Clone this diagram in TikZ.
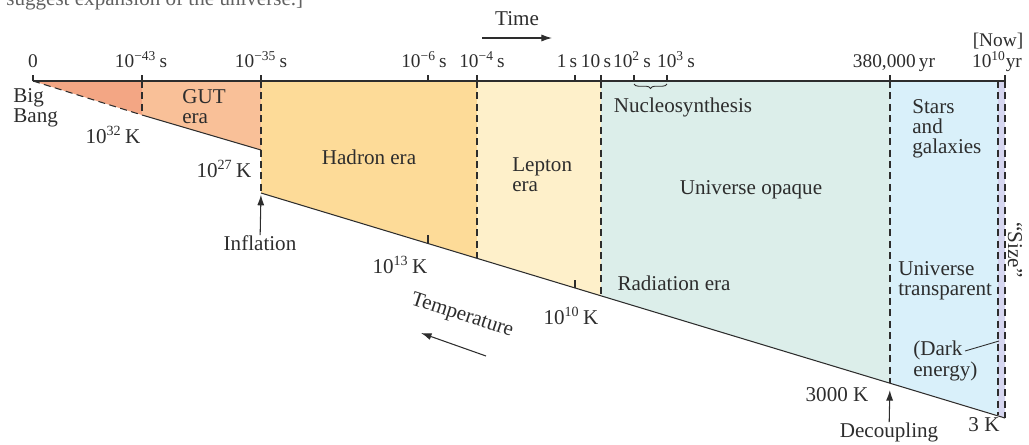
\documentclass[tikz,border=0pt]{standalone}
\usepackage{fontspec}
\setmainfont{Liberation Serif}
\usetikzlibrary{arrows.meta,decorations.pathreplacing}

\definecolor{gutdark}{RGB}{243,166,132}
\definecolor{gutera}{RGB}{249,192,152}
\definecolor{hadron}{RGB}{253,219,152}
\definecolor{lepton}{RGB}{254,240,202}
\definecolor{radfill}{RGB}{220,238,234}
\definecolor{transp}{RGB}{217,240,250}
\definecolor{darken}{RGB}{214,214,240}
\definecolor{ink}{RGB}{45,45,45}

\newcommand{\tenp}[1]{10\textsuperscript{#1}}

\begin{document}
\begin{tikzpicture}[x=0.02cm, y=-0.02cm, font=\fontsize{12}{11.5}\selectfont,
        txt/.style={text=ink, inner sep=0pt},
        ticklbl/.style={txt, anchor=base, font=\fontsize{11}{11}\selectfont},
        block/.style={txt, align=left, anchor=west},
        bound/.style={draw=ink, line width=0.6pt, dash pattern=on 4pt off 2.5pt},
        rim/.style={draw=ink, line width=0.6pt},
        pointer/.style={ink, line width=0.6pt, -{Latex[length=6pt,width=4pt]}}]

            \useasboundingbox (0,0) rectangle (1029,444);

            \coordinate (t0) at (33,81);
            \coordinate (tA) at (142,81);
            \coordinate (tB) at (261,81);
            \coordinate (tC) at (477,81);
            \coordinate (tD) at (601,81);
            \coordinate (tE) at (890,81);
            \coordinate (tF) at (998,81);
            \coordinate (tG) at (1005,81);

            \coordinate (bA) at (142,115);
            \coordinate (bB) at (261,150);
            \coordinate (iB) at (261,193);
            \coordinate (bC) at (477,258);
            \coordinate (bD) at (601,296);
            \coordinate (bE) at (890,383);
            \coordinate (bF) at (998,415);
            \coordinate (bG) at (1005,418);

            \fill[gutdark] (t0) -- (tA) -- (bA) -- cycle;
            \fill[gutera] (tA) -- (tB) -- (bB) -- (bA) -- cycle;
            \fill[hadron] (tB) -- (tC) -- (bC) -- (iB) -- cycle;
            \fill[lepton] (tC) -- (tD) -- (bD) -- (bC) -- cycle;
            \fill[radfill] (tD) -- (tE) -- (bE) -- (bD) -- cycle;
            \fill[transp] (tE) -- (tF) -- (bF) -- (bE) -- cycle;
            \fill[darken] (tF) -- (tG) -- (bG) -- (bF) -- cycle;

            \path[rim] (t0) -- (tG);
            \path[bound] (t0) -- (bA);
            \path[rim] (bA) -- (bB);
            \path[rim] (iB) -- (bG);

            \path[bound] (tA) -- (bA);
            \path[bound] (tB) -- (iB);
            \path[bound] (tC) -- (bC);
            \path[bound] (tD) -- (bD);
            \path[bound] (tE) -- (bE);
            \path[bound] (tF) -- (bF);
            \path[bound] (tG) -- (bG);

            \path[rim] (33,75) -- (t0) (142,75) -- (tA) (261,75) -- (tB)
                (428,75) -- (428,81) (477,75) -- (tC) (575,75) -- (575,81)
                (601,75) -- (tD) (634,75) -- (634,81) (667,75) -- (667,81)
                (890,75) -- (tE) (1005,75) -- (tG);
            \path[rim] (428,243) -- (428,235) (575,288) -- (575,280);

            \draw[ink, line width=0.5pt, decorate, decoration={brace, amplitude=2.5pt, mirror}] (634,84) -- (667,84);

            \node[txt] (caption) [anchor=base west, text=ink!75] at (6,5) {suggest expansion of the universe.]};

            \node[ticklbl] (lbl0) at (33,67) {0};
            \node[ticklbl] (lblA) at (141,67) {\tenp{−43}\,s};
            \node[ticklbl] (lblB) at (261,67) {\tenp{−35}\,s};
            \node[ticklbl] (lblH) at (424,67) {\tenp{−6}\,s};
            \node[ticklbl] (lblC) at (482,67) {\tenp{−4}\,s};
            \node[ticklbl] (lblS) at (567,67) {1\,s};
            \node[ticklbl] (lblD) at (596,67) {10\,s};
            \node[ticklbl] (lblN2) at (632,67) {\tenp{2}\,s};
            \node[ticklbl] (lblN3) at (676,67) {\tenp{3}\,s};
            \node[ticklbl] (lblE) at (894,67) {380,000\,yr};
            \node[ticklbl] (lblG) at (997,67) {\tenp{10}yr};
            \node[ticklbl] (now) at (998,46) {[Now]};

            \node[txt] (time) at (517,19) {Time};
            \coordinate (timeL) at (482,38);
            \coordinate (timeR) at (552,38);
            \path[pointer] (timeL) edge (timeR);

            \node[block] (bigbang) at (13,108) {Big\\Bang};
            \node[block] (gut) at (182,107) {GUT\\era};
            \node[block] (leptonera) at (512,175) {Lepton\\era};
            \node[block] (stars) at (912,129) {Stars\\and\\galaxies};
            \node[block] (transparent) at (898,281) {Universe\\transparent};
            \node[block] (dark) at (913,361) {(Dark\\energy)};

            \node[txt] (k32) at (113,135) {\tenp{32}\,K};
            \node[txt] (k27) at (224,169) {\tenp{27}\,K};
            \node[txt] (k13) at (400,265) {\tenp{13}\,K};
            \node[txt] (k10) at (571,316) {\tenp{10}\,K};
            \node[txt] (k3000) at (837,395) {3000 K};
            \node[txt] (k3) at (984,425) {3 K};

            \node[txt] (hadronera) at (369,157) {Hadron era};
            \node[txt] (nucleo) at (683,107) {Nucleosynthesis};
            \node[txt] (opaqueu) at (751,190) {Universe opaque};
            \node[txt] (radiation) at (674,283) {Radiation era};

            \node[txt] (inflation) at (260,243) {Inflation};
            \path[pointer, shorten >=1pt] (inflation) edge (iB);

            \node[txt] (decoupling) at (889,432) {Decoupling};
            \path[pointer, shorten >=4pt] (decoupling) edge (bE);

            \node[txt, rotate=-18] (temp) at (462,316) {Temperature};
            \coordinate (tempR) at (486,356);
            \coordinate (tempL) at (421,333);
            \path[pointer] (tempR) edge (tempL);

            \coordinate (darkend) at (999,341);
            \path[draw=ink, line width=0.5pt] (965,351) -- (darkend);

            \node[txt, rotate=-90] (size) at (1015,250) {``Size''};
        \end{tikzpicture}
\end{document}
